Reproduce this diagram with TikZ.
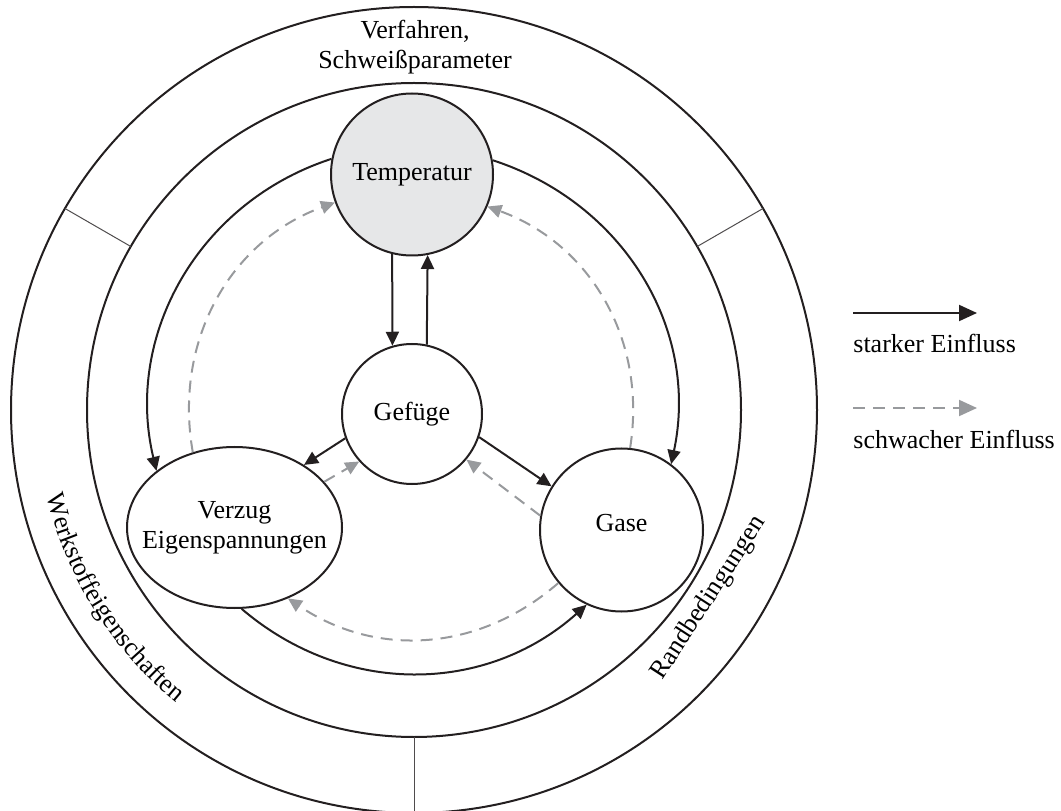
\documentclass[tikz,border=0pt]{standalone}
\usepackage{fontspec}
\setmainfont{Liberation Serif}
\usetikzlibrary{arrows.meta,shapes.geometric,decorations.text}
\definecolor{tempgray}{RGB}{230,231,232}
\definecolor{weakgray}{RGB}{152,154,157}
\definecolor{inkblack}{RGB}{35,31,32}
\tikzset{
  VertexStyle/.style = { circle, draw = inkblack, line width = 1pt,
                         inner sep = 0pt },
  LabelStyle/.style = { inner sep = 0pt },
  RingStyle/.style = { draw = inkblack, line width = 1pt },
  SepStyle/.style = { draw = inkblack!80, line width = 0.5pt },
  StrongStyle/.style = { draw = inkblack, line width = 1pt,
                         -{Triangle[length=7pt,width=6.5pt]} },
  WeakStyle/.style = { draw = weakgray, line width = 1pt,
                       dash pattern = on 6pt off 4pt,
                       -{Triangle[length=7pt,width=6.5pt]} },
  KeyStyle/.style = { -{Triangle[length=9pt,width=8pt]} } }

\begin{document}
\begin{tikzpicture}[x=0.5pt,y=0.5pt,font=\fontsize{13}{15}\selectfont]
  \useasboundingbox (0,0) rectangle (1061,810);
  \coordinate (O) at (414,400);
  \draw[RingStyle] (O) circle[radius=403];
  \draw[RingStyle] (O) circle[radius=327];
  \foreach \a in {30,150,270}
    \draw[SepStyle] (O) ++(\a:327) -- ++(\a:76);

  \node[LabelStyle,align=center] (proc) at (415,763) {Verfahren,\\Schweißparameter};
  \node[LabelStyle,rotate=57] (rand) at (709,212) {Randbedingungen};
  \path[decorate,decoration={text along path,text align=center,
        text={|\fontsize{13}{15}\selectfont|Werkstoffeigenschaften}}]
    (O) ++(169.5:377) arc[start angle=169.5,end angle=254.5,radius=377];

  \node[VertexStyle,fill=tempgray,minimum size=81pt] (temp) at (412,635.5) {Temperatur};
  \node[VertexStyle,minimum size=70pt] (gef) at (412,396) {Gefüge};
  \node[VertexStyle,ellipse,inner xsep=-9pt,minimum width=107.5pt,
        minimum height=80.5pt,align=center] (verz) at (234.5,282.5) {Verzug\\Eigenspannungen};
  \node[VertexStyle,minimum size=81.5pt,text depth=7pt] (gase) at (621.5,280) {Gase};

  % starker Einfluss
  \draw[StrongStyle] (temp.169) to[out=198,in=103.5] (verz.144);
  \draw[StrongStyle] (temp.10) to[out=-18,in=78] (gase.53);
  \draw[StrongStyle] (verz.275) to[out=-40.5,in=221.7] (gase.245);
  \draw[StrongStyle] (temp.256) -- (gef.106);
  \draw[StrongStyle] (gef.78) -- (temp.281);
  \draw[StrongStyle] (gef.200) -- (verz.42);
  \draw[StrongStyle] (gef.-19) -- (gase.148);

  % schwacher Einfluss
  \draw[WeakStyle] (verz.119) to[out=100,in=200] (temp.200);
  \draw[WeakStyle] (gase.84) to[out=81,in=-20] (temp.337);
  \draw[WeakStyle] (gase.220) to[out=221,in=326] (verz.307);
  \draw[WeakStyle] (verz.27) -- (gef.222);
  \draw[WeakStyle] (gase.170) -- (gef.320);

  % Legende
  \coordinate (s1) at (853,497);
  \coordinate (s2) at (977,497);
  \draw[StrongStyle,KeyStyle] (s1) -- (s2);
  \node[LabelStyle,anchor=base west] (strong) at (853,457) {starker Einfluss};
  \coordinate (w1) at (853,402);
  \coordinate (w2) at (977,402);
  \draw[WeakStyle,KeyStyle] (w1) -- (w2);
  \node[LabelStyle,anchor=base west] (weak) at (853,362) {schwacher Einfluss};
\end{tikzpicture}
\end{document}
